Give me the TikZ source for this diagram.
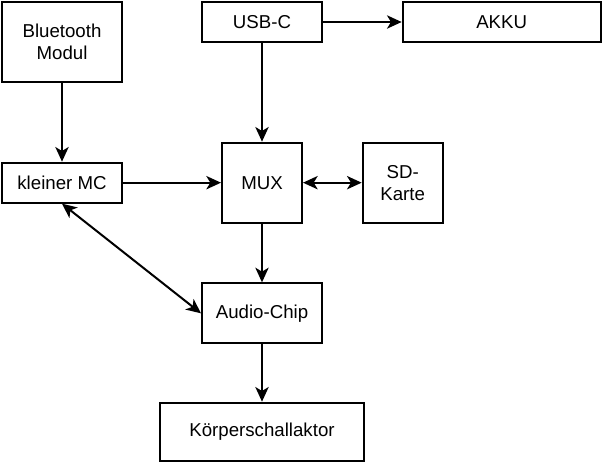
\documentclass[tikz,border=0pt]{standalone}
\usepackage{fontspec}
\setmainfont{Liberation Sans}
\usetikzlibrary{arrows.meta}
\usetikzlibrary{positioning}

\begin{document}
\begin{tikzpicture}[->,>={Stealth[length=11pt,width=10pt,inset=3pt]},x=0.75pt,y=-0.75pt,line width=1.5pt,font=\fontsize{14}{16.5}\selectfont]
  \tikzstyle{block}=[draw, rectangle, inner sep=0pt, fill=white, align=center, minimum width=90pt]
  \useasboundingbox (0,0) rectangle (602,462);
  \node[block, minimum height=60pt]          (BT)                      at (62,42)     {Bluetooth\\Modul};
  \node[block, minimum height=30pt]          (USB)                     at (262,22) {USB-C};
  \node[block, minimum height=30pt, minimum width=148.5pt] (AKKU) [right=59pt of USB] {AKKU};
  \node[block, minimum height=30pt]          (MC)   [below=59pt of BT]  {kleiner MC};
  \node[block, minimum width=60pt, minimum height=60pt] (MUX) [below=74pt of USB] {MUX};
  \node[block, minimum width=60pt, minimum height=60pt] (SD)  [right=44pt of MUX] {SD-\\Karte};
  \node[block, minimum height=45pt]          (AC)   [below=44pt of MUX] {Audio-Chip};
  \node[block, minimum width=153pt, minimum height=44pt] (KSA) [below=43pt of AC] {Körperschallaktor};
  \path
    (BT) edge (MC)
    (USB) edge (AKKU)
    (USB) edge (MUX)
    (MC) edge (MUX)
    (MUX) edge [<->] (SD)
    (MUX) edge (AC)
    (MC.south) edge [<->] (AC.west)
    (AC) edge (KSA);
\end{tikzpicture}
\end{document}
